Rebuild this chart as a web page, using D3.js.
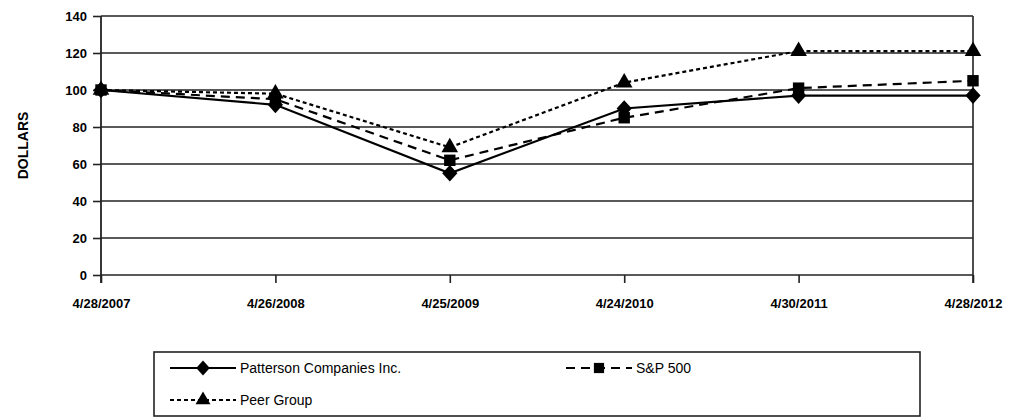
<!DOCTYPE html>
<meta charset="utf-8">
<script src="https://d3js.org/d3.v7.min.js"></script>
<style>
  body { margin: 0; background: #fff; }
  text { font-family: "Liberation Sans", Arial, sans-serif; fill: #000; }
</style>
<div id="chart"></div>
<script>

// data
var dates = ["4/28/2007", "4/26/2008", "4/25/2009", "4/24/2010", "4/30/2011", "4/28/2012"];
var patterson = [100, 92, 55, 90, 97, 97];
var sp500 = [100, 95, 62, 85, 101, 105];
var peer = [100, 98, 69, 104, 121, 121];
var yTicks = [0, 20, 40, 60, 80, 100, 120, 140];

var W = 1018, H = 420;
var margin = {top: 16, right: 45, bottom: 145, left: 101},
    width = W - margin.left - margin.right,
    height = H - margin.top - margin.bottom;

var svg = d3.select("#chart").append("svg")
    .attr("width", W)
    .attr("height", H);

var g = svg.append("g")
    .attr("transform", "translate(" + margin.left + "," + margin.top + ")");

var x = d3.scalePoint().domain(dates).range([0, width]);
var y = d3.scaleLinear().domain([0, 140]).range([height, 0]);

// wider diamond than d3's default
var wideDiamond = {
  draw: function(ctx, size) {
    var r = Math.sqrt(size) * 0.62;
    ctx.moveTo(0, -r * 1.1);
    ctx.lineTo(r, 0);
    ctx.lineTo(0, r * 1.1);
    ctx.lineTo(-r, 0);
    ctx.closePath();
  }
};

// gridlines
g.selectAll(".grid").data(yTicks).enter().append("line")
    .attr("x1", 0).attr("x2", width)
    .attr("y1", function(d) { return y(d); })
    .attr("y2", function(d) { return y(d); })
    .attr("stroke", "#222").attr("stroke-width", 1.6);

// right border
g.append("line")
    .attr("x1", width).attr("x2", width)
    .attr("y1", 0).attr("y2", height + 8)
    .attr("stroke", "#222").attr("stroke-width", 1.6);

// y axis
var yAxis = g.append("g")
    .call(d3.axisLeft(y).tickValues(yTicks).tickSize(8).tickPadding(6));
yAxis.select(".domain").attr("stroke", "#222").attr("stroke-width", 1.8)
    .attr("d", "M0," + (height + 8) + "V0");
yAxis.selectAll(".tick line").attr("stroke", "#222").attr("stroke-width", 1.6);
yAxis.selectAll("text").style("font-size", "13px").style("font-weight", "bold");

// x axis
var xAxis = g.append("g")
    .attr("transform", "translate(0," + height + ")")
    .call(d3.axisBottom(x).tickSize(8).tickPadding(16));
xAxis.select(".domain").remove();
xAxis.selectAll(".tick line").attr("stroke", "#222").attr("stroke-width", 1.6);
xAxis.selectAll("text").style("font-size", "13px").style("font-weight", "bold");

// y title
svg.append("text")
    .attr("transform", "translate(28," + (margin.top + height / 2) + ") rotate(-90)")
    .attr("text-anchor", "middle")
    .style("font-size", "14px").style("font-weight", "bold")
    .text("DOLLARS");

var series = [
  {name: "Patterson Companies Inc.", values: patterson, dash: null, shape: wideDiamond, size: 150},
  {name: "S&P 500", values: sp500, dash: "9,6", shape: d3.symbolSquare, size: 130},
  {name: "Peer Group", values: peer, dash: "4,3", shape: d3.symbolTriangle, size: 120}
];

var line = d3.line()
    .x(function(d, i) { return x(dates[i]); })
    .y(function(d) { return y(d); });

// lines (peer first so solid line sits on top)
series.slice().reverse().forEach(function(s) {
  g.append("path")
    .datum(s.values)
    .attr("d", line)
    .attr("fill", "none")
    .attr("stroke", "#000")
    .attr("stroke-width", 2.2)
    .attr("stroke-dasharray", s.dash);
  g.selectAll(null).data(s.values).enter().append("path")
    .attr("d", d3.symbol().type(s.shape).size(s.size))
    .attr("transform", function(d, i) { return "translate(" + x(dates[i]) + "," + y(d) + ")"; })
    .attr("fill", "#000");
});

// legend
var lg = svg.append("g");
lg.append("rect")
    .attr("x", 154).attr("y", 352)
    .attr("width", 766).attr("height", 64)
    .attr("fill", "none").attr("stroke", "#222").attr("stroke-width", 1.6);

var legendPos = [
  {x: 170, y: 368},
  {x: 566, y: 368},
  {x: 170, y: 400}
];

series.forEach(function(s, i) {
  var p = legendPos[i];
  lg.append("line")
    .attr("x1", p.x).attr("x2", p.x + 66)
    .attr("y1", p.y).attr("y2", p.y)
    .attr("stroke", "#000").attr("stroke-width", 2)
    .attr("stroke-dasharray", s.dash);
  lg.append("path")
    .attr("d", d3.symbol().type(s.shape).size(s.size * 0.8))
    .attr("transform", "translate(" + (p.x + 33) + "," + p.y + ")")
    .attr("fill", "#000");
  lg.append("text")
    .attr("x", p.x + 70).attr("y", p.y + 5)
    .style("font-size", "14px")
    .text(s.name);
});

</script>
